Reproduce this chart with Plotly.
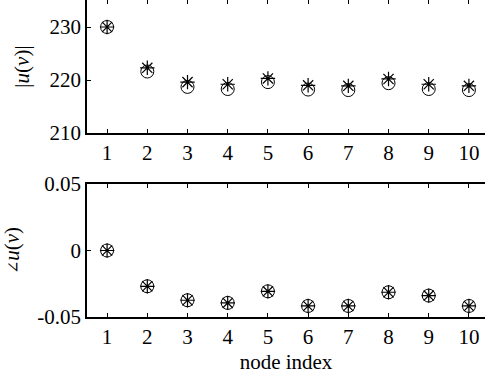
import plotly.graph_objects as go
from plotly.subplots import make_subplots

nodes = [1, 2, 3, 4, 5, 6, 7, 8, 9, 10]
mag_circle = [230.0, 221.6, 218.7, 218.3, 219.6, 218.2, 218.1, 219.4, 218.3, 218.1]
mag_star = [230.0, 222.3, 219.6, 219.2, 220.3, 219.0, 218.9, 220.2, 219.2, 218.9]
ang_circle = [0.0, -0.0269, -0.0374, -0.0394, -0.0307, -0.0417, -0.0417, -0.0314, -0.0339, -0.0417]
ang_star = [0.0, -0.0269, -0.0374, -0.0394, -0.0307, -0.0417, -0.0417, -0.0314, -0.0339, -0.0417]
mag_ticks = [210, 220, 230]
ang_ticks = [-0.05, 0, 0.05]
ang_ticktext = ["-0.05", "0", "0.05"]

FONT = "Liberation Serif"
H = 382
plot_h = 317

fig = make_subplots(rows=2, cols=1, vertical_spacing=0.0)

def add(row, yc, ys):
    fig.add_trace(go.Scatter(x=nodes, y=yc, mode="markers",
                             marker=dict(symbol="circle-open", size=13, color="black",
                                         line=dict(width=1, color="black")),
                             showlegend=False, cliponaxis=False), row=row, col=1)
    fig.add_trace(go.Scatter(x=nodes, y=ys, mode="markers",
                             marker=dict(symbol="asterisk-open", size=12, color="black",
                                         line=dict(width=1.2, color="black")),
                             showlegend=False, cliponaxis=False), row=row, col=1)

add(1, mag_circle, mag_star)
add(2, ang_circle, ang_star)

xcommon = dict(range=[0.5, 10.4], tickvals=nodes, ticks="inside", ticklen=4,
               tickcolor="black", tickwidth=1, showline=True, linecolor="black",
               linewidth=1.5, mirror="ticks", showgrid=False, zeroline=False,
               automargin=False,
               tickfont=dict(family=FONT, size=21, color="black"))
ycommon = dict(ticks="inside", ticklen=4, tickcolor="black", tickwidth=1,
               showline=True, linecolor="black", linewidth=1.5, mirror=False,
               showgrid=False, zeroline=False, automargin=False,
               tickfont=dict(family=FONT, size=21, color="black"))

top_dom = [1 - 133 / plot_h, 1.0]
bot_dom = [0.0, 1 - 184 / plot_h]

fig.update_xaxes(**xcommon)
fig.update_yaxes(**ycommon)
fig.update_xaxes(domain=[0, 1], row=1, col=1)
fig.update_xaxes(domain=[0, 1], row=2, col=1,
                 title=dict(text="node index", font=dict(family=FONT, size=21, color="black"), standoff=6))
fig.update_yaxes(domain=top_dom, range=[210, 235.1], tickvals=mag_ticks, row=1, col=1,
                 title=dict(text="|<i>u</i>(<i>v</i>)|", font=dict(family=FONT, size=21, color="black"), standoff=14))
fig.update_yaxes(domain=bot_dom, range=[-0.05, 0.05], tickvals=ang_ticks, ticktext=ang_ticktext, row=2, col=1,
                 title=dict(text="<span style=\"font-family:DejaVu Serif;font-size:16px\">∠</span><i>u</i>(<i>v</i>)",
                            font=dict(family=FONT, size=21, color="black"), standoff=14))

fig.update_layout(width=485, height=H, margin=dict(l=87, r=0, t=0, b=H - plot_h, autoexpand=False),
                  paper_bgcolor="white", plot_bgcolor="white")
fig.write_html("out.html", config=dict(displayModeBar=False),
               post_script="document.body.style.margin='0';document.body.style.overflow='hidden';")
